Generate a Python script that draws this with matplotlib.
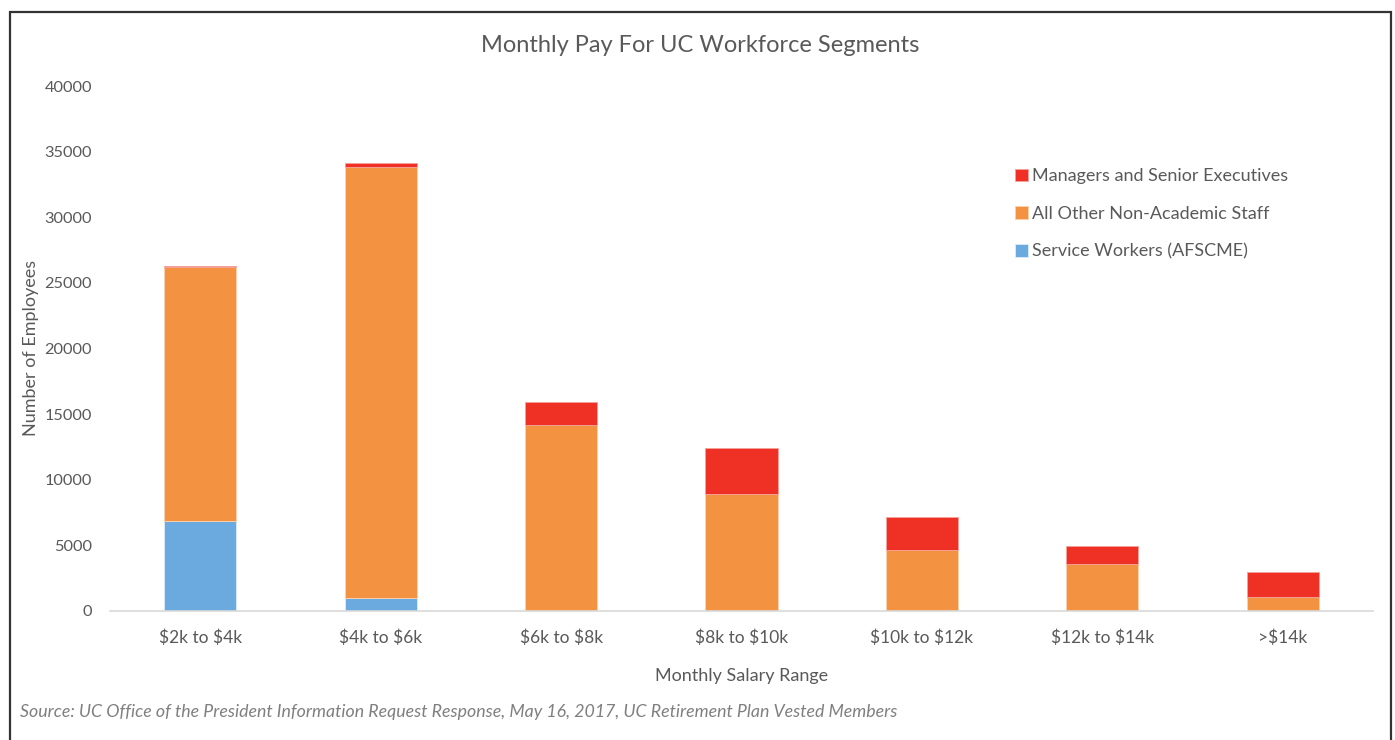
import matplotlib.pyplot as plt
from matplotlib.patches import Rectangle
import numpy as np

plt.rcParams['font.family'] = ['Lato', 'DejaVu Sans']
plt.rcParams['text.parse_math'] = False

categories = ['$2k to $4k', '$4k to $6k', '$6k to $8k', '$8k to $10k',
              '$10k to $12k', '$12k to $14k', '>$14k']
service = [6850, 1000, 0, 0, 0, 0, 0]
other = [19350, 32830, 14170, 8910, 4650, 3580, 1070]
managers = [80, 300, 1750, 3500, 2510, 1370, 1900]

c_blue = '#6AAADE'
c_orange = '#F39240'
c_red = '#EE3124'
txt = '#595959'

fig = plt.figure(figsize=(13.95, 7.4), dpi=100)
ax = fig.add_axes([110 / 1395, 1 - 611 / 740, 1263 / 1395, 525 / 740])

x = np.arange(len(categories))
w = 0.40
b1 = ax.bar(x, service, w, color=c_blue, edgecolor='#DDEBF7', linewidth=0.6,
            label='Service Workers (AFSCME)')
b2 = ax.bar(x, other, w, bottom=service, color=c_orange, edgecolor='#FAD2B0',
            linewidth=0.6, label='All Other Non-Academic Staff')
base = np.array(service) + np.array(other)
b3 = ax.bar(x, managers, w, bottom=base, color=c_red, edgecolor='#F5A39B',
            linewidth=0.6, label='Managers and Senior Executives')

ax.set_xlim(-0.5, len(categories) - 0.5)
ax.set_ylim(0, 40000)
ax.set_yticks(range(0, 40001, 5000))
ax.set_xticks(x)
ax.set_xticklabels(categories)
for s in ['top', 'right', 'left']:
    ax.spines[s].set_visible(False)
ax.spines['bottom'].set_color('#D9D9D9')
ax.spines['bottom'].set_linewidth(1.2)
ax.tick_params(axis='x', length=0, colors=txt, labelsize=12.5, pad=13)
ax.tick_params(axis='y', length=0, colors=txt, labelsize=11.8, pad=13)

ax.set_xlabel('Monthly Salary Range', fontsize=13, color=txt, labelpad=16)
ax.set_ylabel('Number of Employees', fontsize=13, color=txt)
ax.yaxis.label.set_va('center')
ax.yaxis.set_label_coords(31 / 1395, 1 - 348 / 740, transform=fig.transFigure)

fig.text(700 / 1395, 1 - 46 / 740, 'Monthly Pay For UC Workforce Segments',
         ha='center', va='center', fontsize=17, color=txt)
fig.text(20 / 1395, 1 - 712 / 740,
         'Source: UC Office of the President Information Request Response, '
         'May 16, 2017, UC Retirement Plan Vested Members',
         ha='left', va='center', fontsize=12.8, color='#7F7F7F', style='italic')

leg = ax.legend(handles=[b3, b2, b1], loc='upper left',
                bbox_to_anchor=(999 / 1395, 1 - 152 / 740),
                bbox_transform=fig.transFigure, frameon=False,
                fontsize=13, handlelength=0.7, handleheight=0.7,
                handletextpad=0.25, labelspacing=1.2, labelcolor=txt)

fig.patches.append(Rectangle((10 / 1395, -0.01), 1381 / 1395, 1 - 12 / 740 + 0.01,
                             transform=fig.transFigure, fill=False,
                             edgecolor='#333333', linewidth=1.6))

fig.savefig('out.png', dpi=100)
